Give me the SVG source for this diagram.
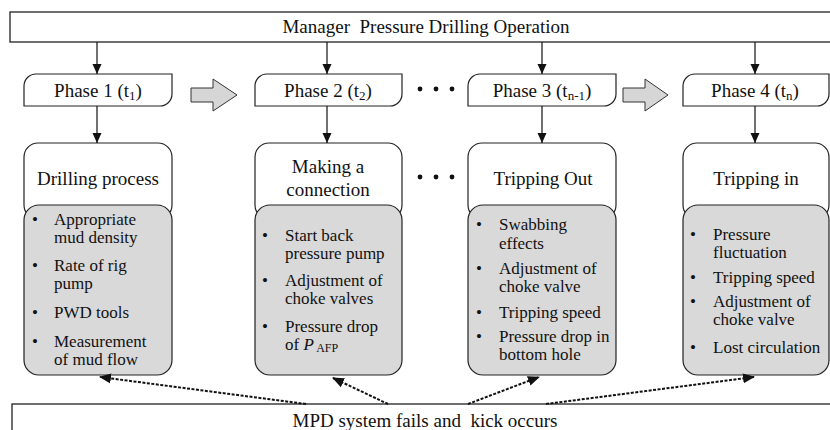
<svg xmlns="http://www.w3.org/2000/svg" width="830" height="430" viewBox="0 0 830 430">
  <defs>
    <style>
      text { font-family: "Liberation Serif", "Times New Roman", serif; fill: #111; }
      .lbl { font-size: 17px; }
      .big { font-size: 19px; }
      .mid { text-anchor: middle; }
      .bar { fill: #fff; stroke: #222; stroke-width: 1.3; }
      .phase { fill: #fff; stroke: #222; stroke-width: 1.2; }
      .title { fill: #fff; stroke: #222; stroke-width: 1.2; }
      .items { fill: #d9d9d9; stroke: #222; stroke-width: 1.2; }
      .step { fill: #d6d6d6; stroke: #333; stroke-width: 1; }
      .flow { stroke: #111; stroke-width: 1.2; fill: none; marker-end: url(#head); }
      .fail { stroke: #111; stroke-width: 2; stroke-dasharray: 3 1.5; fill: none; marker-end: url(#headDot); }
      .dot { fill: #111; }
      .sub { font-size: 13px; }
      .sub2 { font-size: 12px; }
    </style>
    <marker id="head" markerUnits="userSpaceOnUse" markerWidth="10" markerHeight="10" viewBox="0 0 10 10" refX="10" refY="5" orient="auto">
      <path d="M0,0.5 L10,5 L0,9.5 Z" fill="#111"/>
    </marker>
    <marker id="headDot" markerUnits="userSpaceOnUse" markerWidth="12" markerHeight="12" viewBox="0 0 12 12" refX="11" refY="6" orient="auto">
      <path d="M0,1 L12,6 L0,11 Z" fill="#111"/>
    </marker>
  </defs>

  <!-- operation header -->
  <g id="operation">
    <rect class="bar" x="10" y="12" width="830" height="30"/>
    <text class="big mid" x="426" y="33" xml:space="preserve">Manager  Pressure Drilling Operation</text>
  </g>

  <!-- phase tabs -->
  <g id="phase1">
    <path class="phase" d="M24,106 V86 A12,12 0 0 1 36,74 H172 V94 A12,12 0 0 1 160,106 Z"/>
    <text class="big mid" x="98" y="97">Phase 1 (t<tspan class="sub" dy="3">1</tspan><tspan dy="-3">)</tspan></text>
  </g>
  <g id="phase2">
    <path class="phase" d="M255,106 V86 A12,12 0 0 1 267,74 H402 V94 A12,12 0 0 1 390,106 Z"/>
    <text class="big mid" x="328" y="97">Phase 2 (t<tspan class="sub" dy="3">2</tspan><tspan dy="-3">)</tspan></text>
  </g>
  <g id="phase3">
    <path class="phase" d="M468,106 V86 A12,12 0 0 1 480,74 H616 V94 A12,12 0 0 1 604,106 Z"/>
    <text class="big mid" x="542" y="97">Phase 3 (t<tspan class="sub" dy="3">n-1</tspan><tspan dy="-3">)</tspan></text>
  </g>
  <g id="phase4">
    <path class="phase" d="M683,106 V86 A12,12 0 0 1 695,74 H829 V94 A12,12 0 0 1 817,106 Z"/>
    <text class="big mid" x="755" y="97">Phase 4 (t<tspan class="sub" dy="3">n</tspan><tspan dy="-3">)</tspan></text>
  </g>

  <!-- sequence arrows and ellipses -->
  <g id="sequence">
    <polygon class="step" points="191,88 213,88 213,79 237,95 213,111 213,102 191,102"/>
    <polygon class="step" points="623,88 645,88 645,79 668,95 645,111 645,102 623,102"/>
    <circle class="dot" cx="420" cy="89" r="2.4"/>
    <circle class="dot" cx="436" cy="89" r="2.4"/>
    <circle class="dot" cx="452" cy="89" r="2.4"/>
    <circle class="dot" cx="420" cy="177" r="2.4"/>
    <circle class="dot" cx="436" cy="177" r="2.4"/>
    <circle class="dot" cx="452" cy="177" r="2.4"/>
  </g>

  <!-- drilling process -->
  <g id="drilling">
    <rect class="title" x="24" y="143" width="148" height="76" rx="14"/>
    <text class="big mid" x="98" y="185">Drilling process</text>
    <rect class="items" x="24" y="205" width="148" height="170" rx="15"/>
    <g class="lbl">
      <text x="32" y="225">•</text><text x="54" y="225">Appropriate<tspan x="54" dy="18">mud density</tspan></text>
      <text x="32" y="271">•</text><text x="54" y="271">Rate of rig<tspan x="54" dy="18">pump</tspan></text>
      <text x="32" y="318">•</text><text x="54" y="318">PWD tools</text>
      <text x="32" y="347">•</text><text x="54" y="347">Measurement<tspan x="54" dy="18">of mud flow</tspan></text>
    </g>
  </g>

  <!-- making a connection -->
  <g id="connection">
    <rect class="title" x="255" y="143" width="147" height="76" rx="14"/>
    <text class="big mid" x="328" y="173">Making a<tspan x="328" dy="23">connection</tspan></text>
    <rect class="items" x="255" y="205" width="147" height="170" rx="15"/>
    <g class="lbl">
      <text x="262" y="241">•</text><text x="285" y="241">Start back<tspan x="285" dy="18">pressure pump</tspan></text>
      <text x="262" y="286">•</text><text x="285" y="286">Adjustment of<tspan x="285" dy="18">choke valves</tspan></text>
      <text x="262" y="332">•</text><text x="285" y="332">Pressure drop<tspan x="285" dy="18">of <tspan font-style="italic">P</tspan><tspan class="sub2" dy="2"> AFP</tspan></tspan></text>
    </g>
  </g>

  <!-- tripping out -->
  <g id="trippingOut">
    <rect class="title" x="468" y="143" width="148" height="76" rx="14"/>
    <text class="big mid" x="543" y="185">Tripping Out</text>
    <rect class="items" x="468" y="205" width="148" height="170" rx="15"/>
    <g class="lbl">
      <text x="476" y="230">•</text><text x="499" y="230">Swabbing<tspan x="499" dy="19">effects</tspan></text>
      <text x="476" y="274">•</text><text x="499" y="274">Adjustment of<tspan x="499" dy="18">choke valve</tspan></text>
      <text x="476" y="318">•</text><text x="499" y="318">Tripping speed</text>
      <text x="476" y="342">•</text><text x="499" y="342">Pressure drop in<tspan x="499" dy="18">bottom hole</tspan></text>
    </g>
  </g>

  <!-- tripping in -->
  <g id="trippingIn">
    <rect class="title" x="683" y="143" width="146" height="76" rx="14"/>
    <text class="big mid" x="756" y="185">Tripping in</text>
    <rect class="items" x="683" y="205" width="146" height="170" rx="15"/>
    <g class="lbl">
      <text x="690" y="240">•</text><text x="713" y="240">Pressure<tspan x="713" dy="18">fluctuation</tspan></text>
      <text x="690" y="283">•</text><text x="713" y="283">Tripping speed</text>
      <text x="690" y="307">•</text><text x="713" y="307">Adjustment of<tspan x="713" dy="18">choke valve</tspan></text>
      <text x="690" y="353">•</text><text x="713" y="353">Lost circulation</text>
    </g>
  </g>

  <!-- failure event -->
  <g id="failure">
    <rect class="bar" x="12" y="404" width="830" height="40"/>
    <text class="big mid" x="425" y="427" xml:space="preserve">MPD system fails and  kick occurs</text>
  </g>

  <!-- connectors -->
  <g id="connectors">
    <line class="flow" x1="97" y1="42" x2="97" y2="74"/>
    <line class="flow" x1="327" y1="42" x2="327" y2="74"/>
    <line class="flow" x1="542" y1="42" x2="542" y2="74"/>
    <line class="flow" x1="755" y1="42" x2="755" y2="74"/>
    <line class="flow" x1="97" y1="106" x2="97" y2="143"/>
    <line class="flow" x1="327" y1="106" x2="327" y2="143"/>
    <line class="flow" x1="542" y1="106" x2="542" y2="143"/>
    <line class="flow" x1="755" y1="106" x2="755" y2="143"/>
    <line class="fail" x1="306" y1="404" x2="100" y2="377"/>
    <line class="fail" x1="388" y1="404" x2="333" y2="378"/>
    <line class="fail" x1="468" y1="404" x2="539" y2="377"/>
    <line class="fail" x1="546" y1="404" x2="754" y2="377"/>
  </g>
</svg>
